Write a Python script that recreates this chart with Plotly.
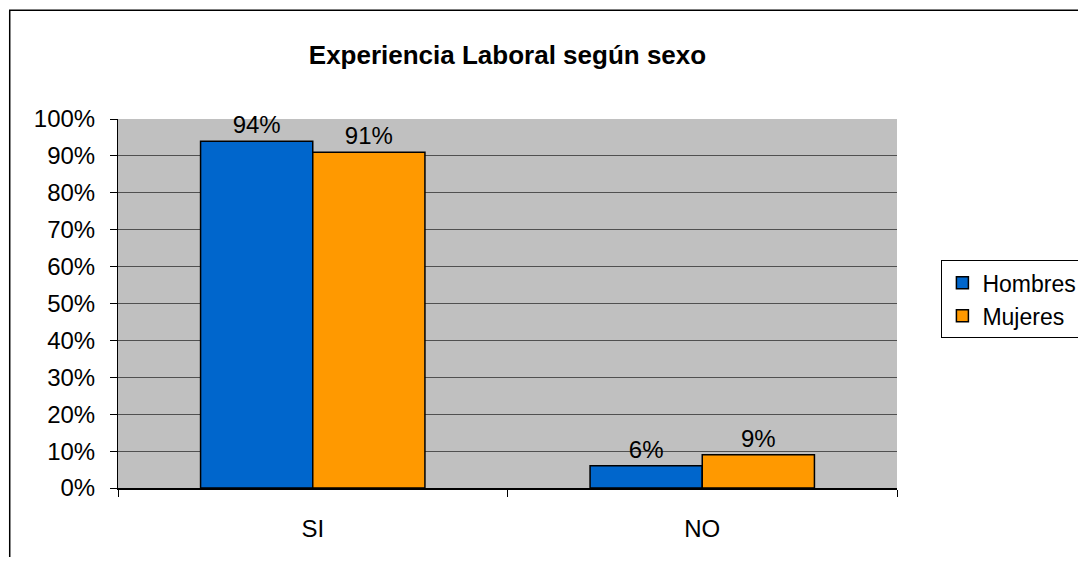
import plotly.graph_objects as go

categories = ["SI", "NO"]
hombres = [0.94, 0.06]
mujeres = [0.91, 0.09]
y_ticks = [i / 10 for i in range(11)]

FONT = "Liberation Sans, Arial, sans-serif"

fig = go.Figure()
fig.add_trace(go.Bar(x=categories, y=hombres, name="Hombres",
                     marker=dict(color="#0066CC", line=dict(color="black", width=1.5)),
                     text=hombres, texttemplate="%{text:.0%}", textposition="outside",
                     textfont=dict(size=24, color="black"), cliponaxis=False))
fig.add_trace(go.Bar(x=categories, y=mujeres, name="Mujeres",
                     marker=dict(color="#FF9900", line=dict(color="black", width=1.5)),
                     text=mujeres, texttemplate="%{text:.0%}", textposition="outside",
                     textfont=dict(size=24, color="black"), cliponaxis=False))

# page body has an 8px margin, so the figure is 16px smaller than the window
fig.update_layout(
    width=1070, height=549,
    margin=dict(l=110, r=181, t=111, b=69, autoexpand=False),
    paper_bgcolor="white", plot_bgcolor="#C0C0C0",
    font=dict(family=FONT, size=24, color="black"),
    title=dict(text="<b>Experiencia Laboral según sexo</b>", x=0.5, xref="paper", xanchor="center",
               y=1 - 47 / 549, yanchor="middle", font=dict(size=26)),
    barmode="group", bargap=0.424, bargroupgap=0,
    showlegend=True,
    legend=dict(x=1.057, y=0.617, xanchor="left", yanchor="top",
                bordercolor="black", borderwidth=1, bgcolor="white",
                font=dict(size=23), tracegroupgap=4, itemwidth=30),
    shapes=[dict(type="rect", xref="paper", yref="paper",
                 x0=-0.139, x1=1.5, y0=-0.5, y1=1.295,
                 line=dict(color="black", width=1.5), layer="below")],
)

fig.update_yaxes(range=[0, 1], tickvals=y_ticks, tickformat=".0%",
                 showgrid=True, gridcolor="#505050", gridwidth=1,
                 showline=True, linecolor="black", linewidth=1,
                 ticks="outside", ticklen=7, tickcolor="black", zeroline=False,
                 ticklabelstandoff=10)
fig.update_xaxes(showline=True, linecolor="black", linewidth=1.5,
                 ticks="outside", ticklen=7, tickcolor="black", tickson="boundaries",
                 ticklabelstandoff=18)

fig.write_html("out.html")
